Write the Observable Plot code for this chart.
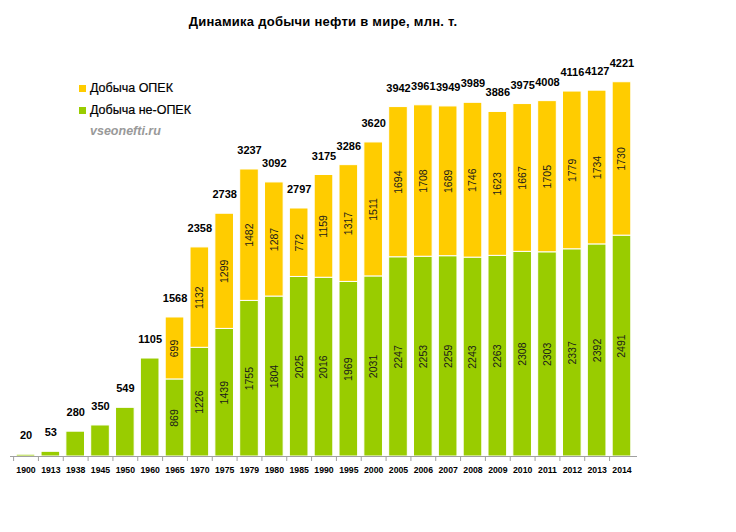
<!DOCTYPE html>
<html><head><meta charset="utf-8">
<script src="https://cdn.jsdelivr.net/npm/d3@7"></script>
<script src="https://cdn.jsdelivr.net/npm/@observablehq/plot@0.6"></script>
<style>
body{margin:0;background:#fff;font-family:"Liberation Sans",Arial,sans-serif;}
#wrap{position:relative;width:736px;height:532px;overflow:hidden;}
#title{position:absolute;left:0;width:646px;top:14px;text-align:center;font-weight:bold;font-size:13px;letter-spacing:0.25px;color:#000;}
#chart{position:absolute;left:0;top:40px;}
.leg{position:absolute;left:90px;font-size:12.5px;color:#000;line-height:14px;-webkit-text-stroke:0.2px #000;}
.sw{position:absolute;left:-11px;top:4px;width:7px;height:7px;}
#src{position:absolute;left:90px;top:124px;font-size:12.5px;color:#999;font-weight:bold;font-style:italic;}
</style></head>
<body>
<div id="wrap">
  <div id="title">Динамика добычи нефти в мире, млн. т.</div>
  <div id="chart"></div>
  <div class="leg" style="top:81px"><span class="sw" style="background:#FFCC00"></span>Добыча ОПЕК</div>
  <div class="leg" style="top:103px"><span class="sw" style="background:#99CC00"></span>Добыча не-ОПЕК</div>
  <div id="src">vseonefti.ru</div>
</div>
<script>
const years = ["1900","1913","1938","1945","1950","1960","1965","1970","1975","1979","1980","1985","1990","1995","2000","2005","2006","2007","2008","2009","2010","2011","2012","2013","2014"];
const nonOpec = [20,53,280,350,549,1105,869,1226,1439,1755,1804,2025,2016,1969,2031,2247,2253,2259,2243,2263,2308,2303,2337,2392,2491];
const opec = [null,null,null,null,null,null,699,1132,1299,1482,1287,772,1159,1317,1511,1694,1708,1689,1746,1623,1667,1705,1779,1734,1730];
const totals = [20,53,280,350,549,1105,1568,2358,2738,3237,3092,2797,3175,3286,3620,3942,3961,3949,3989,3886,3975,4008,4116,4127,4221];
const seriesNames = ["Добыча не-ОПЕК","Добыча ОПЕК"];

const rows = [];
years.forEach((y, i) => {
  rows.push({year: y, type: seriesNames[0], value: nonOpec[i], inner: opec[i] != null});
  if (opec[i] != null) rows.push({year: y, type: seriesNames[1], value: opec[i], inner: true});
});
const tops = years.map((y, i) => ({year: y, top: nonOpec[i] + (opec[i] ?? 0), label: String(totals[i])}));

const W = 736, H = 492, mL = 10, mR = 99, pad = 0.25;
const step = (W - mL - mR) / (years.length + pad);

const chart = Plot.plot({
  width: W, height: H,
  marginTop: 17, marginBottom: 76, marginLeft: mL, marginRight: mR,
  style: {fontFamily: "Liberation Sans, Arial, sans-serif", background: "white"},
  x: {type: "band", domain: years, padding: pad, round: false, axis: null, label: null},
  y: {domain: [0, 4500], axis: null},
  color: {domain: seriesNames, range: ["#99CC00", "#FFCC00"]},
  marks: [
    Plot.barY(rows, Plot.stackY({x: "year", y: "value", fill: "type", stroke: "white", strokeWidth: 1})),
    Plot.text(rows.filter(d => d.inner), Plot.stackY({x: "year", y: "value", z: "type", text: d => String(d.value), rotate: -90, fontSize: 10.5, fill: "#1a1a1a"})),
    Plot.text(tops, {x: "year", y: "top", text: "label", dy: -19, fontWeight: "bold", fontSize: 11, fill: "#000"}),
    Plot.ruleY([0], {stroke: "#a0a0a0"}),
    Plot.axisX({tickSize: 0, tickPadding: 10.5, fontWeight: "bold", fontSize: 8.7, fill: "#000", label: null}),
    Plot.axisX({tickSize: 5, tickFormat: () => "", dx: -step / 2, stroke: "#a0a0a0", label: null})
  ]
});
document.getElementById("chart").appendChild(chart);
</script>
</body></html>
